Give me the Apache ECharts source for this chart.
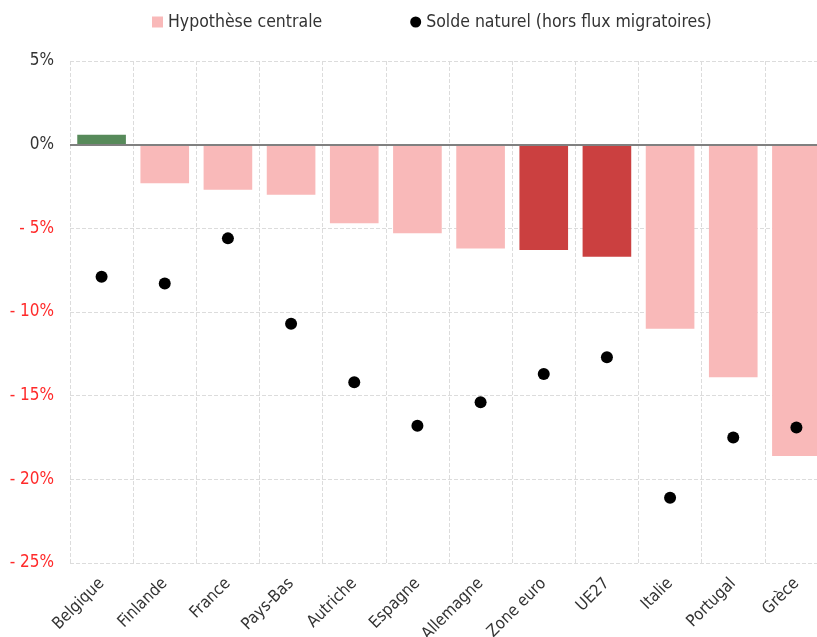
<!DOCTYPE html>
<html>
<head>
<meta charset="utf-8">
<script src="https://cdn.jsdelivr.net/npm/echarts@6/dist/echarts.min.js"></script>
<style>html,body{margin:0;padding:0;background:#fff}#c{width:817px;height:637px}</style>
</head>
<body>
<div id="c"></div>
<script>
const categories = ['Belgique','Finlande','France','Pays-Bas','Autriche','Espagne','Allemagne','Zone euro','UE27','Italie','Portugal','Grèce'];
const hypotheseCentrale = [0.6, -2.3, -2.7, -3.0, -4.7, -5.3, -6.2, -6.3, -6.7, -11.0, -13.9, -18.6];
const soldeNaturel = [-7.9, -8.3, -5.6, -10.7, -14.2, -16.8, -15.4, -13.7, -12.7, -21.1, -17.5, -16.9];
const aggregates = ['Zone euro', 'UE27'];
const yTicks = { min: -25, max: 5, interval: 5 };

const FONT = '"Liberation Sans Narrow", "DejaVu Sans Condensed", "Roboto", sans-serif';
const chart = echarts.init(document.getElementById('c'));

const barData = hypotheseCentrale.map((v, i) => {
  let color = '#F9B9B9';
  if (v > 0) color = '#578A5A';
  else if (aggregates.includes(categories[i])) color = '#CB4040';
  return { value: v, itemStyle: { color } };
});

chart.setOption({
  animation: false,
  textStyle: { fontFamily: FONT },
  legend: {
    top: 8, left: 147,
    itemGap: 88,
    itemWidth: 11, itemHeight: 11,
    textStyle: { fontSize: 17.5, color: '#333', fontFamily: FONT },
    data: [
      { name: 'Hypothèse centrale', icon: 'rect', itemStyle: { color: '#F9B9B9' } },
      { name: 'Solde naturel (hors flux migratoires)', icon: 'circle', itemStyle: { color: '#000' } }
    ]
  },
  grid: { left: 70, width: 758, top: 61, bottom: 74, containLabel: false, outerBoundsMode: 'none' },
  xAxis: {
    type: 'category',
    data: categories,
    boundaryGap: true,
    axisLine: { show: false },
    axisTick: { show: false },
    splitLine: { show: true, lineStyle: { color: '#dcdcdc', type: 'dashed' } },
    axisLabel: { rotate: 45, fontSize: 16.5, color: '#333', fontFamily: FONT, margin: 18, interval: 0 }
  },
  yAxis: {
    type: 'value',
    min: yTicks.min, max: yTicks.max, interval: yTicks.interval,
    axisLine: { show: false },
    axisTick: { show: false },
    splitLine: { show: true, lineStyle: { color: '#dcdcdc', type: 'dashed' } },
    axisLabel: {
      fontSize: 17, fontFamily: FONT, margin: 16,
      formatter: v => v < 0 ? '- ' + Math.abs(v) + '%' : v + '%',
      color: v => v < 0 ? '#FF2A2A' : '#333'
    }
  },
  series: [
    {
      name: 'Hypothèse centrale',
      type: 'bar',
      data: barData,
      barWidth: '77%',
      itemStyle: { color: '#F9B9B9' },
      markLine: {
        silent: true, symbol: 'none',
        label: { show: false },
        lineStyle: { color: '#808080', width: 2, type: 'solid' },
        data: [{ yAxis: 0 }]
      },
      z: 2
    },
    {
      name: 'Solde naturel (hors flux migratoires)',
      type: 'scatter',
      data: soldeNaturel,
      symbolSize: 12,
      itemStyle: { color: '#000', opacity: 1 },
      z: 5
    }
  ]
});
</script>
</body>
</html>
